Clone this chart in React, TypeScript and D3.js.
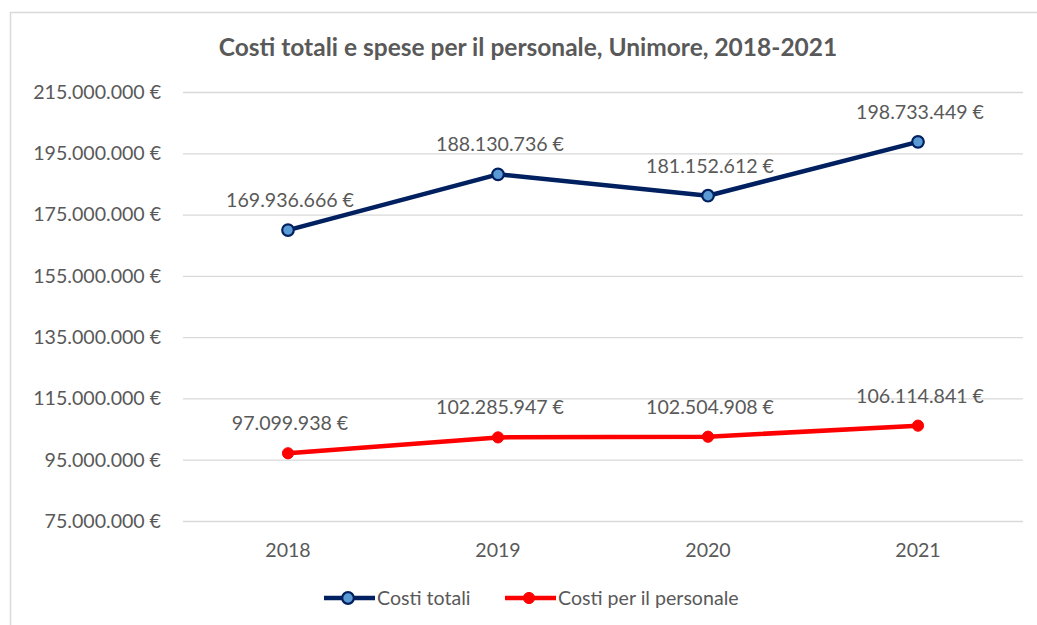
import React from "react";
import * as d3 from "d3";

const years = ["2018", "2019", "2020", "2021"];
const costiTotali = [169936666, 188130736, 181152612, 198733449];
const costiPersonale = [97099938, 102285947, 102504908, 106114841];
const yTicks = [75000000, 95000000, 115000000, 135000000, 155000000, 175000000, 195000000, 215000000];

const W = 1037;
const H = 625;
const FONT = "Lato, 'Noto Sans', sans-serif";
const GREY = "#595959";
const FS = 19.6;

const fmt = (v: number) =>
  d3.format(",")(v).replace(/,/g, ".") + "\u202f€";

export default function App() {
  const x = d3.scaleBand().domain(years).range([183, 1023]);
  const y = d3.scaleLinear().domain([75000000, 215000000]).range([521, 92]);
  const cx = (d: string) => (x(d) ?? 0) + x.bandwidth() / 2;

  const line = d3
    .line<number>()
    .x((_, i) => cx(years[i]))
    .y((d) => y(d));

  const series = [
    { name: "Costi totali", values: costiTotali, stroke: "#002060", fill: "#5B9BD5", r: 5.8, sw: 2.2 },
    { name: "Costi per il personale", values: costiPersonale, stroke: "#FF0000", fill: "#FF0000", r: 5.6, sw: 1 },
  ];

  return (
    <svg
      width={W}
      height={H}
      style={{ position: "absolute", left: 0, top: 0, background: "#fff" }}
      fontFamily={FONT}
    >
      <rect x={0} y={0} width={W} height={H} fill="#fff" />
      {/* chart border */}
      <path d={`M10.5,${H} V12.5 H${W}`} fill="none" stroke="#D9D9D9" strokeWidth={1.5} />

      <text x={528} y={47} dy="0.35em" textAnchor="middle" fontSize={24.5} fontWeight="bold" fill={GREY}>
        Costi totali e spese per il personale, Unimore, 2018-2021
      </text>

      {yTicks.map((t) => (
        <g key={t}>
          <line x1={183} x2={1023} y1={y(t) + 0.5} y2={y(t) + 0.5} stroke="#D9D9D9" strokeWidth={1.3} />
          <text x={161} y={y(t)} dy="0.35em" textAnchor="end" fontSize={FS} fill={GREY}>
            {fmt(t)}
          </text>
        </g>
      ))}

      {years.map((yr) => (
        <text key={yr} x={cx(yr)} y={550} dy="0.35em" textAnchor="middle" fontSize={FS} fill={GREY}>
          {yr}
        </text>
      ))}

      {series.map((s) => (
        <g key={s.name}>
          <path d={line(s.values) ?? ""} fill="none" stroke={s.stroke} strokeWidth={4.5} strokeLinejoin="round" />
          {s.values.map((v, i) => (
            <g key={i}>
              <circle cx={cx(years[i])} cy={y(v)} r={s.r} fill={s.fill} stroke={s.stroke} strokeWidth={s.sw} />
              <text x={cx(years[i]) + 2} y={y(v) - 30} dy="0.35em" textAnchor="middle" fontSize={FS} fill={GREY}>
                {fmt(v)}
              </text>
            </g>
          ))}
        </g>
      ))}

      {/* legend */}
      {series.map((s, i) => {
        const lx = i === 0 ? 324 : 505;
        return (
          <g key={s.name}>
            <line x1={lx} x2={lx + 51} y1={598} y2={598} stroke={s.stroke} strokeWidth={4.5} />
            <circle cx={lx + 24} cy={598} r={s.r} fill={s.fill} stroke={s.stroke} strokeWidth={s.sw} />
            <text x={lx + 53} y={598} dy="0.35em" fontSize={FS} fill={GREY}>
              {s.name}
            </text>
          </g>
        );
      })}
    </svg>
  );
}
